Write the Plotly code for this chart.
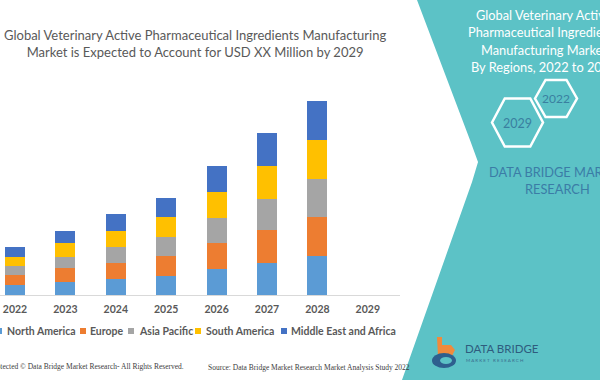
import plotly.graph_objects as go

W, H = 600, 380

years = ["2022", "2023", "2024", "2025", "2026", "2027", "2028", "2029"]
north_america = [10, 13, 16, 19, 25.7, 32.3, 39, None]
europe = [10, 14, 16.3, 20, 26, 32.7, 39.3, None]
asia_pacific = [9, 11.3, 16, 18.7, 25.6, 31, 37.4, None]
south_america = [9.5, 13.7, 16, 20, 26, 33, 39.3, None]
middle_east_africa = [10, 12.3, 16.7, 19, 26, 32.7, 39, None]

series_names = ["North America", "Europe", "Asia Pacific", "South America", "Middle East and Africa"]
series_values = [north_america, europe, asia_pacific, south_america, middle_east_africa]
colors = ["#5B9BD5", "#ED7D31", "#A5A5A5", "#FFC000", "#4472C4"]

title_text = ("Global Veterinary Active Pharmaceutical Ingredients Manufacturing<br>"
              "Market is Expected to Account for USD XX Million by 2029")
panel_lines = ["Global Veterinary Active", "Pharmaceutical Ingredients",
               "Manufacturing Market", "By Regions, 2022 to 2029"]


def px(x):
    return x / W


def py(y):
    return 1 - y / H


def ann(text, x, y, size, color, xanchor="center", family="Lato", weight="normal"):
    return dict(text=text, x=px(x), y=py(y), xref="paper", yref="paper", showarrow=False,
                xanchor=xanchor, yanchor="middle",
                font=dict(family=family, size=size, color=color, weight=weight))


fig = go.Figure()
for name, vals, c in zip(series_names, series_values, colors):
    fig.add_trace(go.Bar(x=years, y=vals, name=name, marker=dict(color=c, line=dict(width=0)),
                         width=0.4, showlegend=False, hoverinfo="skip"))

shapes = []
annotations = []

# teal panel
teal = "#5CC2C6"
path_pts = [(417, 0), (470, 140), (478, 162), (472, 182), (402, 380), (600, 380), (600, 0)]
path = "M " + " L ".join(f"{px(x):.4f},{py(y):.4f}" for x, y in path_pts) + " Z"
shapes.append(dict(type="path", xref="paper", yref="paper", path=path,
                   fillcolor=teal, line=dict(width=0), layer="below"))


def hexagon(cx, cy, r, hh):
    pts = [(cx - r, cy), (cx - r / 2, cy - hh), (cx + r / 2, cy - hh), (cx + r, cy),
           (cx + r / 2, cy + hh), (cx - r / 2, cy + hh)]
    return "M " + " L ".join(f"{px(x):.4f},{py(y):.4f}" for x, y in pts) + " Z"


shapes.append(dict(type="path", xref="paper", yref="paper", path=hexagon(556, 98.5, 21, 18.5),
                   line=dict(color="white", width=2.5)))
shapes.append(dict(type="path", xref="paper", yref="paper", path=hexagon(517.5, 122.5, 25.5, 24),
                   line=dict(color="white", width=2.5)))

annotations.append(ann("2022", 556, 98.5, 12, "#3A7FA0"))
annotations.append(ann("2029", 517.5, 123, 12.5, "#3A7FA0"))

# panel texts
for i, line in enumerate(panel_lines):
    annotations.append(ann(line, 544, 15 + i * 17.3, 12.8, "white"))
annotations.append(ann("DATA BRIDGE MARKET", 557, 172, 12.8, "#3B7CA6"))
annotations.append(ann("RESEARCH", 557, 189, 12.8, "#3B7CA6"))

# logo
shapes.append(dict(type="path", xref="paper", yref="paper",
                   path=("M " + " L ".join(f"{px(x):.4f},{py(y):.4f}" for x, y in
                                          [(437, 337), (442, 337), (442, 345), (451, 345), (455, 350),
                                           (452, 356), (438, 356)]) + " Z"),
                   fillcolor="#F08A3C", line=dict(width=0)))
shapes.append(dict(type="circle", xref="paper", yref="paper", x0=px(432), x1=px(456), y0=py(368), y1=py(353),
                   fillcolor="#2E5F8E", line=dict(width=0)))
shapes.append(dict(type="circle", xref="paper", yref="paper", x0=px(440), x1=px(452), y0=py(364), y1=py(357),
                   fillcolor=teal, line=dict(width=0)))
annotations.append(ann("DATA BRIDGE", 463, 348, 11.5, "#2F5C7E", xanchor="left"))
annotations.append(ann("M A R K E T   R E S E A R C H", 464, 360, 4.5, "#3B6E8F", xanchor="left"))

# title
annotations.append(ann(title_text, 195, 43.5, 13, "#595959"))

# legend
legend_marker_x = [-4, 80, 128, 195, 281]
legend_text_x = [5, 88, 137, 204, 289]
for name, c, mx, tx in zip(series_names, colors, legend_marker_x, legend_text_x):
    shapes.append(dict(type="rect", xref="paper", yref="paper", x0=px(mx), x1=px(mx + 6),
                       y0=py(334), y1=py(328), fillcolor=c, line=dict(width=0)))
    annotations.append(ann(name, tx, 331, 10.5, "#595959", xanchor="left", weight="bold"))

# footer
annotations.append(ann("Data. Protected © Data Bridge Market Research- All Rights Reserved.",
                       186, 366, 7.5, "#404040", xanchor="right", family="Liberation Serif"))
annotations.append(ann("Source: Data Bridge Market Research Market Analysis Study 2022",
                       206, 367, 7.5, "#404040", xanchor="left", family="Liberation Serif"))

spacing = 50.4
r0 = -15 / spacing
r1 = r0 + 400 / spacing

fig.update_layout(
    width=W, height=H,
    margin=dict(l=0, r=0, t=0, b=0),
    paper_bgcolor="white", plot_bgcolor="rgba(0,0,0,0)",
    barmode="stack",
    shapes=shapes, annotations=annotations,
    xaxis=dict(domain=[0, px(400)], range=[r0, r1], type="category",
               showline=True, linecolor="#D9D9D9", linewidth=1, showgrid=False,
               ticks="", tickfont=dict(family="Lato", size=10.5, color="#595959", weight="bold"),
               ticklabelstandoff=4),
    yaxis=dict(domain=[py(295), py(80)], range=[0, 215], visible=False),
)

fig.write_html("out.html", config={"displayModeBar": False},
               post_script="document.body.style.margin='0';document.body.style.overflow='hidden';")
